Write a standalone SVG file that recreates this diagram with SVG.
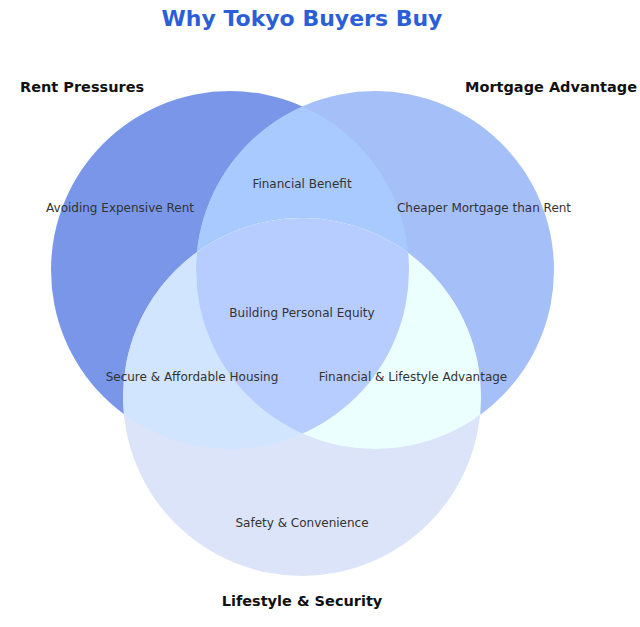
<svg xmlns="http://www.w3.org/2000/svg" width="640" height="627" viewBox="0 0 640 627">
<style>
text{font-family:"DejaVu Sans",sans-serif;}
.r{font-size:12px;fill:#333;text-anchor:middle;}
.s{font-size:14.5px;font-weight:bold;fill:#111;}
</style>
<defs>
<clipPath id="cA"><circle cx="230" cy="270" r="179"/></clipPath>
<clipPath id="cB"><circle cx="375" cy="270" r="179"/></clipPath>
<clipPath id="cC"><circle cx="302" cy="397" r="179"/></clipPath>
</defs>
<rect width="640" height="627" fill="#fff"/>
<g id="sets">
<circle id="A" cx="230" cy="270" r="179" fill="#7996e9"/>
<circle id="B" cx="375" cy="270" r="179" fill="#a5bff8"/>
<circle id="C" cx="302" cy="397" r="179" fill="#dbe4f8"/>
<circle id="AB" cx="375" cy="270" r="179" fill="#a9caff" clip-path="url(#cA)"/>
<circle id="AC" cx="302" cy="397" r="179" fill="#d1e5ff" clip-path="url(#cA)"/>
<circle id="BC" cx="302" cy="397" r="179" fill="#ebffff" clip-path="url(#cB)"/>
<g clip-path="url(#cA)"><circle id="ABC" cx="302" cy="397" r="179" fill="#b8cdff" clip-path="url(#cB)"/></g>
</g>
<text x="302" y="26" font-size="22" font-weight="bold" fill="#2b5fd9" text-anchor="middle">Why Tokyo Buyers Buy</text>
<text class="s" x="20" y="92">Rent Pressures</text>
<text class="s" x="465" y="92">Mortgage Advantage</text>
<text class="s" x="302" y="606" text-anchor="middle">Lifestyle &amp; Security</text>
<text class="r" x="120" y="212">Avoiding Expensive Rent</text>
<text class="r" x="484" y="212">Cheaper Mortgage than Rent</text>
<text class="r" x="302" y="188">Financial Benefit</text>
<text class="r" x="302" y="317">Building Personal Equity</text>
<text class="r" x="192" y="381">Secure &amp; Affordable Housing</text>
<text class="r" x="413" y="381">Financial &amp; Lifestyle Advantage</text>
<text class="r" x="302" y="527">Safety &amp; Convenience</text>
</svg>
